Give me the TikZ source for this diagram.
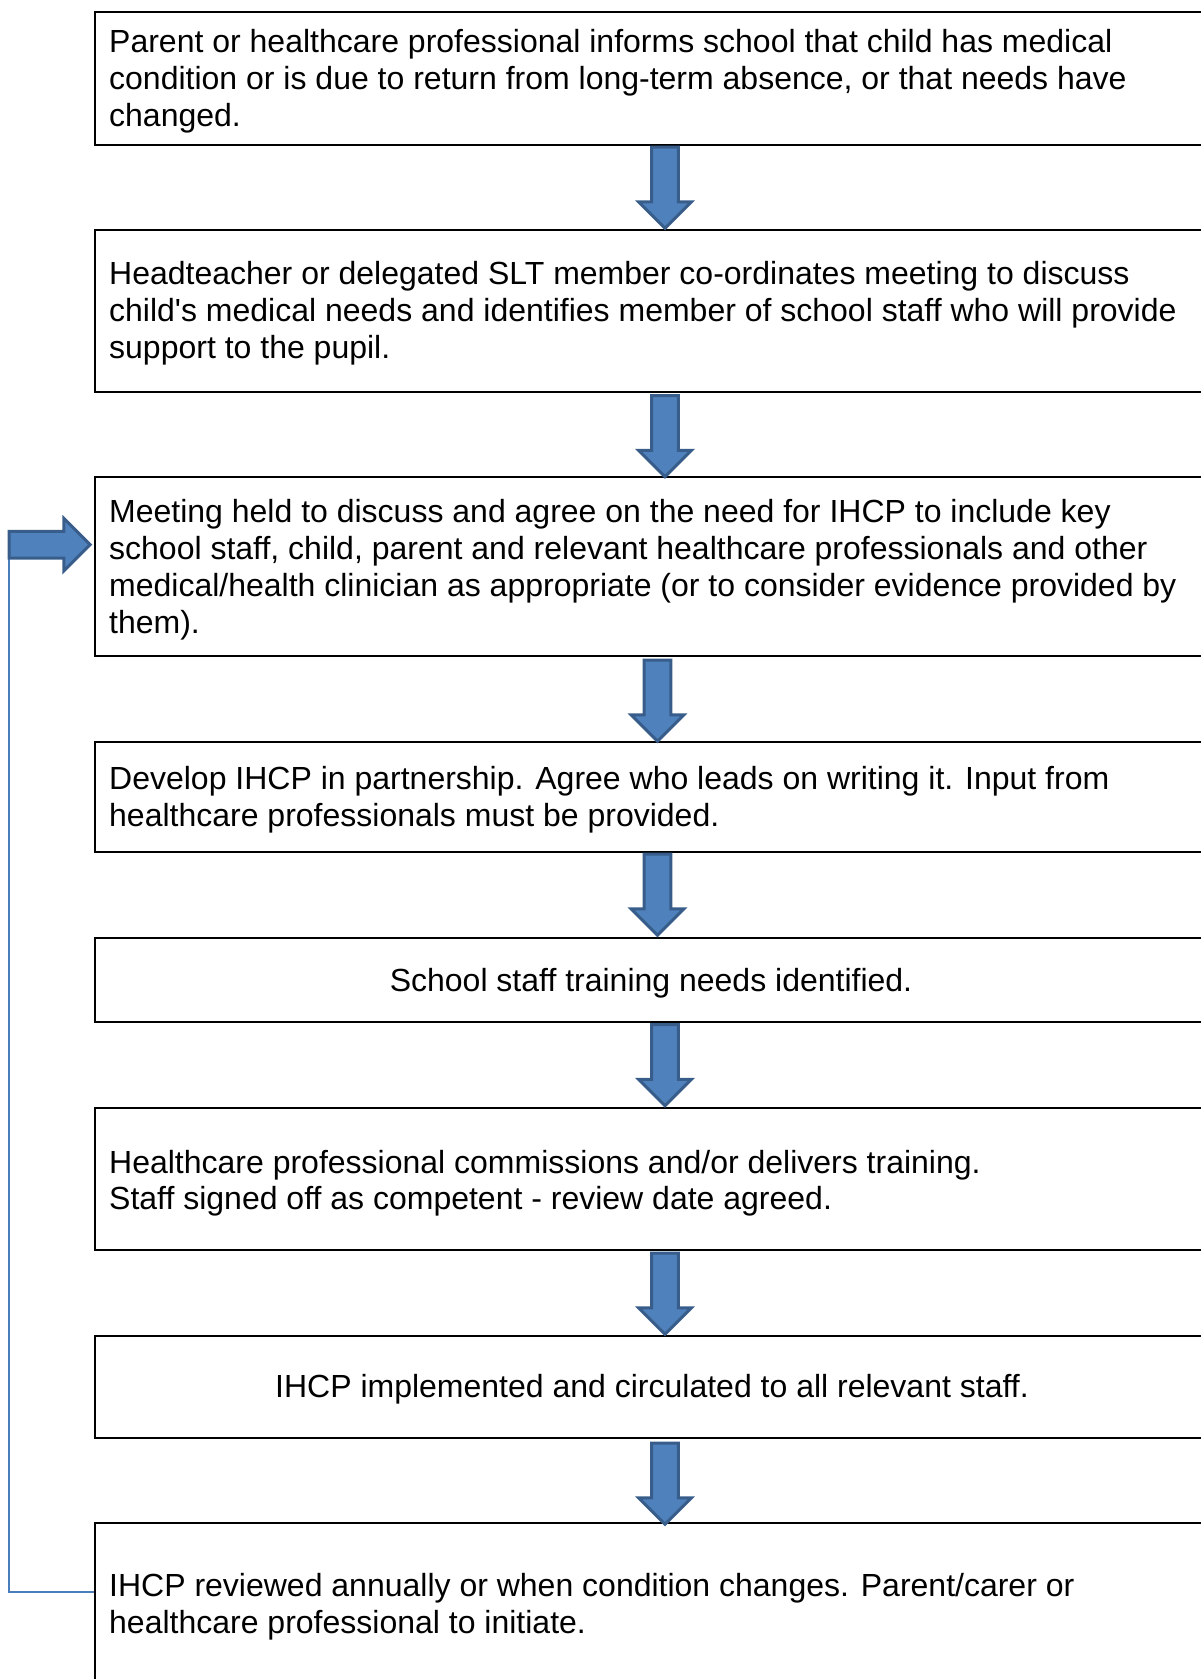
\documentclass[tikz,border=0pt]{standalone}
\usepackage{fontspec}
\setmainfont{Liberation Sans}
\usetikzlibrary{shapes.arrows,calc}
\definecolor{arrfill}{HTML}{4F81BD}
\definecolor{arrline}{HTML}{385D8A}
\definecolor{fbline}{HTML}{4A7EBB}
\pgfdeclarelayer{bg}
\pgfsetlayers{bg,main}
\begin{document}
\begin{tikzpicture}[x=1pt,y=-1pt,
  stepbox/.style={draw=black,line width=2pt,rectangle,anchor=north west,minimum width=1300pt,inner sep=0pt},
  txt/.style={font=\fontsize{32}{36.8}\selectfont,align=left,inner sep=0pt,anchor=base west},
  ctxt/.style={font=\fontsize{32}{36.8}\selectfont,inner sep=0pt,anchor=base},
  blk/.style={single arrow,draw=arrline,fill=arrfill,line width=3pt,minimum height=81pt,minimum width=49.6pt,single arrow head extend=13pt,inner xsep=0pt,inner ysep=11.8pt},
  fb/.style={draw=fbline,line width=1.5pt}]
\useasboundingbox (0,0) rectangle (1200,1679);
% boxes
\node[stepbox,minimum height=132.5pt] (b1) at (93.5,11) {};
\node[stepbox,minimum height=161.7pt] (b2) at (93.5,229) {};
\node[stepbox,minimum height=178.7pt] (b3) at (93.5,476.4) {};
\node[stepbox,minimum height=110.2pt] (b4) at (93.5,740.8) {};
\node[stepbox,minimum height=84.6pt] (b5) at (93.5,936.7) {};
\node[stepbox,minimum height=142.4pt] (b6) at (93.5,1106.9) {};
\node[stepbox,minimum height=101.7pt] (b7) at (93.5,1334.9) {};
\node[stepbox,minimum height=300pt] (b8) at (93.5,1522.2) {};
% texts (anchored at the baseline of the last line)
\node[txt] (t1) at (109,126) {Parent or healthcare professional informs school that child has medical\\condition or is due to return from long-term absence, or that needs have\\changed.};
\node[txt] (t2) at (109,358.5) {Headteacher or delegated SLT member co-ordinates meeting to discuss\\child\textquotesingle s medical needs and identifies member of school staff who will provide\\support to the pupil.};
\node[txt] (t3) at (109,633.1) {Meeting held to discuss and agree on the need for IHCP to include key\\school staff, child, parent and relevant healthcare professionals and other\\medical/health clinician as appropriate (or to consider evidence provided by\\them).};
\node[txt] (t4) at (109,826.1) {Develop IHCP in partnership. Agree who leads on writing it. Input from\\healthcare professionals must be provided.};
\node[ctxt] (t5) at (651,991.5) {School staff training needs identified.};
\node[txt] (t6) at (109,1209.8) {Healthcare professional commissions and/or delivers training.\\Staff signed off as competent - review date agreed.};
\node[ctxt] (t7) at (652,1397.3) {IHCP implemented and circulated to all relevant staff.};
\node[txt] (t8) at (109,1633.2) {IHCP reviewed annually or when condition changes. Parent/carer or\\healthcare professional to initiate.};
% block arrows
\node[blk,rotate=-90] (a1) at (665,181) {};
\node[blk,rotate=-90] (a2) at (665,429.5) {};
\node[blk,rotate=-90] (a3) at (657.5,694) {};
\node[blk,rotate=-90] (a4) at (657.5,888) {};
\node[blk,rotate=-90] (a5) at (665,1058.5) {};
\node[blk,rotate=-90] (a6) at (665,1287) {};
\node[blk,rotate=-90] (a7) at (665,1477) {};
\node[blk] (la) at (43,544.7) {};
% feedback line
\coordinate (fbs) at ($(b8.north west)+(0,70)$);
\begin{pgfonlayer}{bg}
\draw[fb] (fbs) -| ($(la.tail)+(1.5,0)$);
\end{pgfonlayer}
\end{tikzpicture}
\end{document}
